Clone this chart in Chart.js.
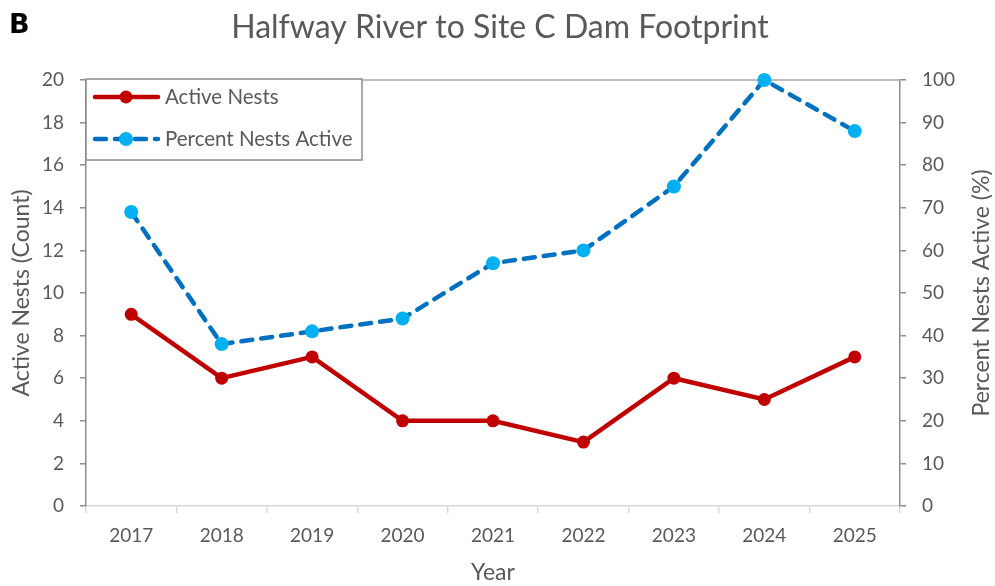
<!DOCTYPE html>
<html>
<head>
<meta charset="utf-8">
<script src="https://cdn.jsdelivr.net/npm/chart.js@4/dist/chart.umd.min.js"></script>
<style>
  html, body { margin: 0; padding: 0; background: #fff; }
  #wrap { width: 995px; height: 586px; position: relative; }
</style>
</head>
<body>
<div id="wrap"><canvas id="nestChart"></canvas></div>
<script>
'use strict';

const years = ['2017', '2018', '2019', '2020', '2021', '2022', '2023', '2024', '2025'];
const activeNests = [9, 6, 7, 4, 4, 3, 6, 5, 7];
const percentActive = [69, 38, 41, 44, 57, 60, 75, 100, 88];
const countTicks = [0, 2, 4, 6, 8, 10, 12, 14, 16, 18, 20];
const percentTicks = [0, 10, 20, 30, 40, 50, 60, 70, 80, 90, 100];

const FONT = 'Lato, "Open Sans", sans-serif';
const GREY_TEXT = '#595959';
const RED = '#C00000';
const BLUE_LINE = '#0070C0';
const BLUE_DOT = '#00B0F0';

// panel letter, chart title, right axis title, top frame line and boxed legend
const decorations = {
  id: 'decorations',
  beforeDatasetsDraw(chart) {
    const ctx = chart.ctx;
    const area = chart.chartArea;
    ctx.save();
    ctx.strokeStyle = '#a6a6a6';
    ctx.lineWidth = 1.5;
    ctx.beginPath();
    ctx.moveTo(area.left, area.top);
    ctx.lineTo(area.right, area.top);
    ctx.stroke();
    ctx.restore();
  },
  afterDraw(chart) {
    const ctx = chart.ctx;
    const area = chart.chartArea;
    ctx.save();

    ctx.fillStyle = '#000';
    ctx.font = '900 27px "DejaVu Sans", sans-serif';
    ctx.textBaseline = 'alphabetic';
    ctx.textAlign = 'left';
    ctx.fillText('B', 9, 33);

    ctx.fillStyle = GREY_TEXT;
    ctx.font = '32px ' + FONT;
    ctx.textAlign = 'center';
    ctx.textBaseline = 'middle';
    ctx.fillText('Halfway River to Site C Dam Footprint', 500, 28);

    // right axis title reads bottom to top
    ctx.save();
    ctx.translate(982, (area.top + area.bottom) / 2);
    ctx.rotate(-Math.PI / 2);
    ctx.font = '23px ' + FONT;
    ctx.fillText('Percent Nests Active (%)', 0, 0);
    ctx.restore();

    // legend box
    ctx.fillStyle = '#fff';
    ctx.fillRect(86, 79, 276, 81);
    ctx.strokeStyle = '#8c8c8c';
    ctx.lineWidth = 1.5;
    ctx.strokeRect(86, 79, 276, 81);

    const rows = [
      { ds: chart.data.datasets[0], y: 97 },
      { ds: chart.data.datasets[1], y: 139 }
    ];
    rows.forEach(function(row) {
      const ds = row.ds;
      ctx.strokeStyle = ds.borderColor;
      ctx.lineWidth = ds.borderWidth;
      ctx.lineCap = 'round';
      ctx.setLineDash(ds.borderDash || []);
      ctx.beginPath();
      ctx.moveTo(95, row.y);
      ctx.lineTo(158, row.y);
      ctx.stroke();
      ctx.setLineDash([]);
      ctx.fillStyle = ds.pointBackgroundColor;
      ctx.beginPath();
      ctx.arc(126, row.y, ds.pointRadius, 0, Math.PI * 2);
      ctx.fill();
      ctx.fillStyle = GREY_TEXT;
      ctx.font = '20.5px ' + FONT;
      ctx.textAlign = 'left';
      ctx.textBaseline = 'middle';
      ctx.fillText(ds.label, 165, row.y);
    });
    ctx.restore();
  }
};

const ctx = document.getElementById('nestChart').getContext('2d');

new Chart(ctx, {
  type: 'line',
  data: {
    labels: years,
    datasets: [
      {
        label: 'Active Nests',
        data: activeNests,
        yAxisID: 'yCount',
        borderColor: RED,
        borderWidth: 4.5,
        pointBackgroundColor: RED,
        pointBorderColor: RED,
        pointBorderWidth: 0,
        pointRadius: 6.5,
        tension: 0,
        clip: false
      },
      {
        label: 'Percent Nests Active',
        data: percentActive,
        yAxisID: 'yPercent',
        borderColor: BLUE_LINE,
        borderWidth: 4.5,
        borderDash: [11, 9],
        borderCapStyle: 'round',
        pointBackgroundColor: BLUE_DOT,
        pointBorderColor: BLUE_DOT,
        pointBorderWidth: 0,
        pointRadius: 7,
        tension: 0,
        clip: false
      }
    ]
  },
  options: {
    responsive: true,
    maintainAspectRatio: false,
    animation: false,
    layout: { padding: { top: 80, left: 0, right: 0, bottom: 0 } },
    plugins: {
      legend: { display: false },
      title: { display: false },
      tooltip: { enabled: false }
    },
    scales: {
      x: {
        offset: true,
        afterFit: function(scale) { scale.height = 80; },
        grid: {
          offset: true,
          drawOnChartArea: false,
          tickLength: 7,
          color: '#d9d9d9',
          lineWidth: 1.5
        },
        border: { color: '#d9d9d9', width: 1.5 },
        ticks: { color: GREY_TEXT, font: { family: FONT, size: 19 }, padding: 11, maxRotation: 0 },
        title: {
          display: true,
          text: 'Year',
          color: GREY_TEXT,
          font: { family: FONT, size: 23 },
          padding: { top: 0, bottom: 0 }
        }
      },
      yCount: {
        position: 'left',
        min: 0,
        max: 20,
        afterFit: function(scale) { scale.width = 86; },
        afterBuildTicks: function(scale) { scale.ticks = countTicks.map(function(v) { return { value: v }; }); },
        grid: { drawOnChartArea: false, tickLength: 6, color: '#8c8c8c', lineWidth: 1.5 },
        border: { color: '#8c8c8c', width: 1.5 },
        ticks: { color: GREY_TEXT, font: { family: FONT, size: 19 }, padding: 16 },
        title: {
          display: true,
          text: 'Active Nests (Count)',
          color: GREY_TEXT,
          font: { family: FONT, size: 23 },
          padding: { top: 8, bottom: 0 }
        }
      },
      yPercent: {
        position: 'right',
        min: 0,
        max: 100,
        afterFit: function(scale) { scale.width = 95; },
        afterBuildTicks: function(scale) { scale.ticks = percentTicks.map(function(v) { return { value: v }; }); },
        grid: { drawOnChartArea: false, tickLength: 6, color: '#8c8c8c', lineWidth: 1.5 },
        border: { color: '#8c8c8c', width: 1.5 },
        ticks: { color: GREY_TEXT, font: { family: FONT, size: 19 }, padding: 16 },
        title: { display: false }
      }
    }
  },
  plugins: [decorations]
});
</script>
</body>
</html>
